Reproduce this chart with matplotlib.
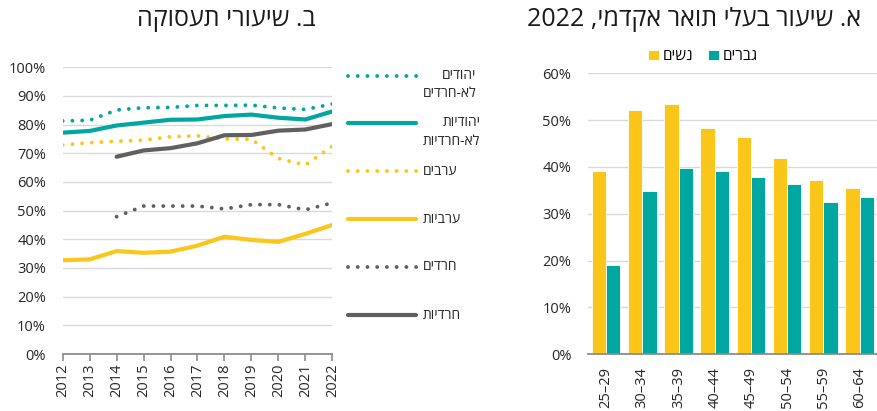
import re
import matplotlib
matplotlib.use("Agg")
import matplotlib.pyplot as plt
from matplotlib.ticker import PercentFormatter
import numpy as np

plt.rcParams['font.family'] = ['Open Sans', 'DejaVu Sans']

def vis(s):
    """Visual (LTR) order for RTL Hebrew text."""
    r = s[::-1]
    return re.sub(r'\d+', lambda m: m.group(0)[::-1], r)

# ---- Panel B data: employment rates ----
years = [2012, 2013, 2014, 2015, 2016, 2017, 2018, 2019, 2020, 2021, 2022]
jew_men = [81.3, 81.5, 85.1, 85.9, 86.0, 86.7, 86.7, 86.8, 85.8, 85.3, 87.2]
jew_women = [77.2, 77.8, 79.7, 80.7, 81.7, 81.8, 83.0, 83.5, 82.4, 81.8, 84.6]
arab_men = [72.9, 73.7, 74.2, 74.6, 75.8, 76.1, 75.0, 74.9, 68.2, 65.9, 72.5]
arab_women = [32.7, 33.0, 35.9, 35.3, 35.7, 37.8, 40.9, 39.8, 39.1, 41.9, 45.0]
haredi_men = [None, None, 47.9, 51.6, 51.6, 51.6, 50.6, 52.1, 52.1, 50.3, 52.7]
haredi_women = [None, None, 68.8, 71.0, 71.8, 73.5, 76.3, 76.4, 77.9, 78.3, 80.2]

series_labels = [
    ("יהודים", "לא-חרדים"),
    ("יהודיות", "לא-חרדיות"),
    ("ערבים", None),
    ("ערביות", None),
    ("חרדים", None),
    ("חרדיות", None),
]

# ---- Panel A data: academic degree holders 2022 ----
age_groups = ["25–29", "30–34", "35–39", "40–44", "45–49", "50–54", "55–59", "60–64"]
women_deg = [39.2, 52.1, 53.5, 48.3, 46.5, 41.9, 37.2, 35.4]
men_deg = [19.1, 34.9, 39.7, 39.1, 37.9, 36.3, 32.5, 33.6]

title_b = "ב. שיעורי תעסוקה"
title_a = "א. שיעור בעלי תואר אקדמי, 2022"
legend_women = "נשים"
legend_men = "גברים"

TEAL = "#00A6A0"
YELLOW = "#FAC61A"
GRAY = "#606060"
GRID = "#D9D9D9"
AXIS = "#8C8C8C"
TXT = "#262626"

W, H = 878, 411
fig = plt.figure(figsize=(W / 100, H / 100), dpi=100)

def frac(x0, y_top, x1, y_bot):
    return [x0 / W, 1 - y_bot / H, (x1 - x0) / W, (y_bot - y_top) / H]

# ================= Panel B =================
axb = fig.add_axes(frac(62.7, 67.3, 332.3, 354))
def arr(v):
    return np.array([np.nan if x is None else x / 100 for x in v])

dot = (0, (0.001, 2.5))
styles = [
    (jew_men, TEAL, dot),
    (jew_women, TEAL, '-'),
    (arab_men, YELLOW, dot),
    (arab_women, YELLOW, '-'),
    (haredi_men, GRAY, dot),
    (haredi_women, GRAY, '-'),
]
for vals, col, ls in styles:
    if ls == '-':
        axb.plot(years, arr(vals), color=col, lw=3.0, solid_capstyle='round',
                 solid_joinstyle='round', zorder=3)
    else:
        axb.plot(years, arr(vals), color=col, lw=2.8, linestyle=ls,
                 dash_capstyle='round', zorder=3)

axb.set_xlim(2012, 2022)
axb.set_ylim(0, 1)
axb.set_yticks(np.arange(0, 1.01, 0.1))
axb.yaxis.set_major_formatter(PercentFormatter(1.0, decimals=0))
axb.set_xticks(years)
axb.set_xticklabels([str(y) for y in years], rotation=90)
axb.grid(axis='y', color=GRID, lw=1)
axb.set_axisbelow(True)
for s in ['top', 'right', 'left']:
    axb.spines[s].set_visible(False)
axb.spines['bottom'].set_color(AXIS)
axb.spines['bottom'].set_linewidth(1.3)
axb.tick_params(axis='y', length=0, pad=12, labelsize=10.5, labelcolor=TXT)
axb.tick_params(axis='x', length=5, width=1.2, color=AXIS, pad=2,
                labelsize=10.5, labelcolor=TXT)

fig.text(226 / W, 1 - 20 / H, vis(title_b), ha='center', va='center',
         fontsize=18, color='#1a1a1a')

# legend for panel B, drawn in its own axes in pixel coordinates
axl = fig.add_axes([0, 0, 1, 1], facecolor='none')
axl.set_xlim(0, W)
axl.set_ylim(H, 0)
axl.axis('off')
leg_y = [75.7, 123.3, 171, 219, 266.7, 315]
for (vals, col, ls), y, (l1, l2) in zip(styles, leg_y, series_labels):
    if ls == '-':
        axl.plot([348, 416], [y, y], color=col, lw=3.0, solid_capstyle='round')
    else:
        axl.plot([348, 418], [y, y], color=col, lw=2.8, linestyle=ls,
                 dash_capstyle='round')
    if l2:
        axl.text(423, y + 8.8, vis(l1) + "\n" + vis(l2), ha='left', va='center',
                 multialignment='right', linespacing=1.3, fontsize=10,
                 color=TXT)
    else:
        axl.text(423, y, vis(l1), ha='left', va='center', fontsize=10,
                 color=TXT)

# ================= Panel A =================
axa = fig.add_axes(frac(588, 73.3, 878, 354.2))
x = np.arange(len(age_groups))
bw = 0.394
b1 = axa.bar(x - bw / 2, np.array(women_deg) / 100, width=bw, color=YELLOW,
             edgecolor='white', linewidth=0.6, zorder=3)
b2 = axa.bar(x + bw / 2, np.array(men_deg) / 100, width=bw, color=TEAL,
             edgecolor='white', linewidth=0.6, zorder=3)
axa.set_xlim(-0.5, len(age_groups) - 0.5 + 0.01)
axa.set_ylim(0, 0.6)
axa.set_yticks(np.arange(0, 0.61, 0.1))
axa.yaxis.set_major_formatter(PercentFormatter(1.0, decimals=0))
axa.set_xticks(x)
axa.set_xticklabels(age_groups, rotation=90)
axa.grid(axis='y', color=GRID, lw=1)
axa.set_axisbelow(True)
for s in ['top', 'right', 'left']:
    axa.spines[s].set_visible(False)
axa.spines['bottom'].set_color(AXIS)
axa.spines['bottom'].set_linewidth(1.3)
axa.spines['bottom'].set_zorder(4)
axa.tick_params(axis='y', length=0, pad=12, labelsize=10.5, labelcolor=TXT)
axa.tick_params(axis='x', length=0, pad=9, labelsize=10.5, labelcolor=TXT)

fig.legend(handles=[b1, b2],
           labels=[vis(legend_women), vis(legend_men)],
           loc='center', bbox_to_anchor=(703 / W, 1 - 57 / H), ncol=2,
           frameon=False, fontsize=11, handlelength=0.7, handleheight=0.7,
           handletextpad=0.25, columnspacing=1.0, borderpad=0)

fig.text(694 / W, 1 - 20 / H, vis(title_a), ha='center', va='center',
         fontsize=18, color='#1a1a1a')

fig.savefig("out.png", dpi=100)
